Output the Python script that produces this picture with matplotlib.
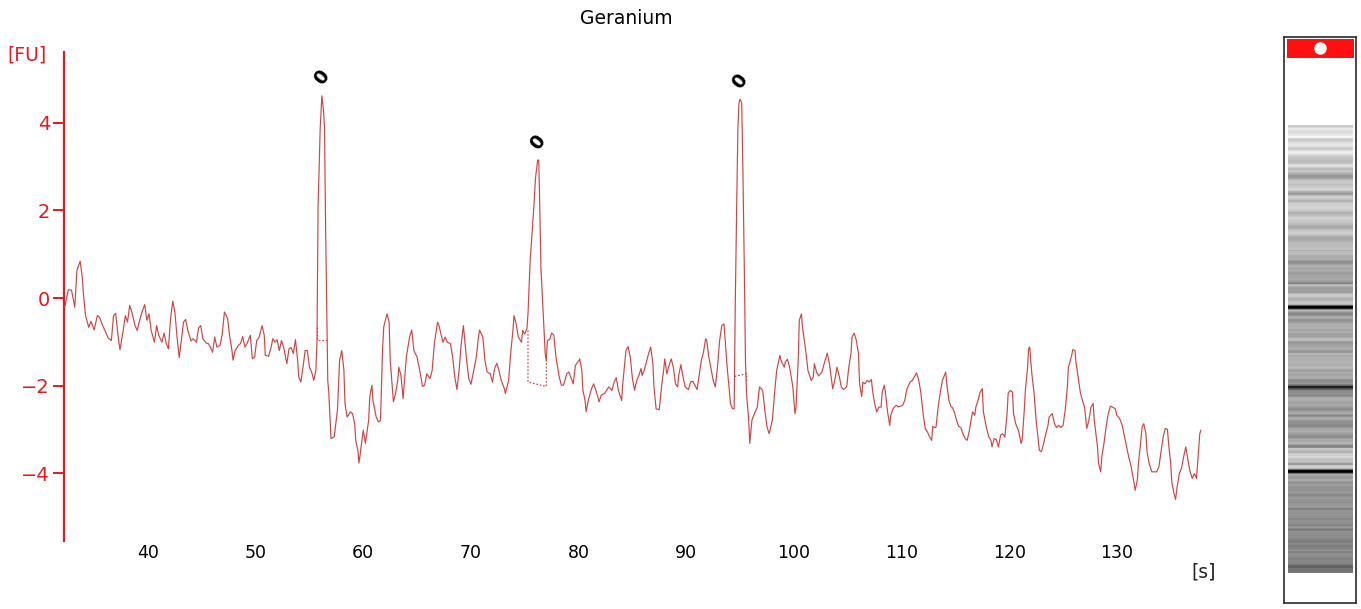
import numpy as np
import matplotlib
matplotlib.use("Agg")
import matplotlib.pyplot as plt

# --- electropherogram trace (time [s], fluorescence [FU]) ---
time_s = [
    32.3, 32.6, 32.9, 33.2, 33.4, 33.7, 33.9, 34.0, 34.2, 34.5, 34.7, 35.0, 35.3, 35.5, 35.8, 36.0,
    36.3, 36.6, 36.8, 37.0, 37.2, 37.4, 37.7, 37.9, 38.1, 38.3, 38.5, 38.8, 39.0, 39.3, 39.5, 39.7,
    39.9, 40.1, 40.3, 40.6, 40.8, 41.0, 41.3, 41.5, 41.7, 41.9, 42.1, 42.3, 42.5, 42.7, 42.9, 43.1,
    43.3, 43.5, 43.7, 44.0, 44.2, 44.5, 44.7, 44.9, 45.1, 45.4, 45.6, 45.8, 46.0, 46.2, 46.4, 46.7,
    46.9, 47.1, 47.4, 47.6, 47.8, 47.9, 48.1, 48.4, 48.6, 48.8, 49.0, 49.2, 49.5, 49.7, 49.9, 50.1,
    50.3, 50.6, 50.8, 50.9, 51.2, 51.4, 51.6, 51.8, 52.0, 52.2, 52.4, 52.6, 52.9, 53.1, 53.3, 53.5,
    53.7, 53.9, 54.0, 54.2, 54.4, 54.6, 54.8, 55.0, 55.2, 55.4, 55.6, 55.7, 55.8, 56.0, 56.15, 56.3,
    56.4, 56.5, 56.6, 56.7, 56.8, 57.0, 57.3, 57.6, 57.8, 58.0, 58.2, 58.3, 58.5, 58.8, 59.0, 59.2,
    59.3, 59.5, 59.6, 59.8, 60.0, 60.2, 60.5, 60.6, 60.8, 60.9, 61.2, 61.4, 61.6, 61.8, 61.9, 62.2,
    62.4, 62.5, 62.8, 63.0, 63.2, 63.3, 63.5, 63.7, 64.0, 64.3, 64.5, 64.7, 65.0, 65.3, 65.5, 65.7,
    65.9, 66.2, 66.4, 66.6, 66.9, 67.0, 67.1, 67.4, 67.6, 67.8, 68.1, 68.3, 68.5, 68.7, 68.9, 69.1,
    69.3, 69.4, 69.6, 69.8, 70.0, 70.2, 70.5, 70.7, 70.8, 71.1, 71.3, 71.5, 71.8, 72.0, 72.2, 72.4,
    72.6, 72.8, 73.1, 73.2, 73.5, 73.7, 73.9, 74.0, 74.2, 74.4, 74.7, 74.8, 75.0, 75.2, 75.3, 75.5,
    75.8, 76.0, 76.2, 76.3, 76.4, 76.5, 76.7, 76.9, 77.0, 77.1, 77.3, 77.5, 77.7, 77.9, 78.2, 78.4,
    78.6, 78.9, 79.1, 79.3, 79.5, 79.7, 80.0, 80.1, 80.3, 80.4, 80.6, 80.7, 80.9, 81.2, 81.4, 81.7,
    81.9, 82.1, 82.4, 82.6, 82.8, 83.1, 83.3, 83.5, 83.7, 84.0, 84.1, 84.3, 84.4, 84.6, 84.8, 85.0,
    85.2, 85.4, 85.6, 85.8, 85.9, 86.1, 86.3, 86.5, 86.7, 86.9, 87.0, 87.2, 87.5, 87.7, 87.9, 88.0,
    88.2, 88.4, 88.6, 88.8, 89.0, 89.2, 89.3, 89.5, 89.7, 89.9, 90.2, 90.4, 90.6, 90.8, 91.0, 91.2,
    91.4, 91.6, 91.8, 91.9, 92.1, 92.3, 92.5, 92.7, 92.9, 93.1, 93.3, 93.5, 93.6, 93.8, 94.0, 94.1,
    94.3, 94.45, 94.55, 94.7, 94.8, 94.9, 95.0, 95.15, 95.25, 95.4, 95.5, 95.6, 95.8, 95.9, 96.1, 96.4,
    96.6, 96.8, 97.1, 97.3, 97.5, 97.7, 98.0, 98.2, 98.4, 98.7, 98.8, 99.1, 99.2, 99.4, 99.6, 99.9,
    100.1, 100.2, 100.4, 100.5, 100.7, 100.8, 101.1, 101.3, 101.6, 101.8, 101.9, 102.1, 102.3, 102.6, 102.9, 103.1,
    103.3, 103.5, 103.6, 103.8, 104.0, 104.2, 104.4, 104.6, 104.9, 105.1, 105.3, 105.4, 105.6, 105.8, 106.0, 106.1,
    106.3, 106.4, 106.6, 106.8, 107.0, 107.2, 107.3, 107.5, 107.7, 107.9, 108.1, 108.2, 108.4, 108.5, 108.7, 108.9,
    109.0, 109.2, 109.5, 109.7, 109.9, 110.1, 110.3, 110.5, 110.8, 111.0, 111.2, 111.4, 111.6, 111.8, 112.0, 112.2,
    112.4, 112.6, 112.8, 112.9, 113.1, 113.2, 113.4, 113.6, 113.8, 114.1, 114.2, 114.4, 114.6, 114.7, 114.9, 115.1,
    115.3, 115.5, 115.7, 115.9, 116.1, 116.3, 116.5, 116.6, 116.8, 116.9, 117.1, 117.3, 117.5, 117.6, 117.9, 118.1,
    118.3, 118.4, 118.6, 118.8, 119.0, 119.2, 119.4, 119.6, 119.8, 119.9, 120.1, 120.3, 120.4, 120.6, 120.9, 121.1,
    121.2, 121.4, 121.5, 121.7, 121.8, 121.9, 122.1, 122.3, 122.5, 122.7, 122.8, 123.0, 123.2, 123.4, 123.6, 123.7,
    124.0, 124.2, 124.4, 124.6, 124.8, 125.0, 125.2, 125.4, 125.5, 125.8, 125.9, 126.1, 126.2, 126.4, 126.6, 126.8,
    127.0, 127.2, 127.4, 127.6, 127.8, 127.9, 128.2, 128.3, 128.5, 128.6, 128.8, 129.0, 129.2, 129.4, 129.6, 129.85,
    130.0, 130.25, 130.5, 130.65, 130.9, 131.1, 131.3, 131.55, 131.7, 131.9, 132.0, 132.2, 132.35, 132.5, 132.7, 132.8,
    133.0, 133.25, 133.5, 133.7, 133.9, 134.1, 134.3, 134.5, 134.7, 134.8, 135.0, 135.1, 135.3, 135.45, 135.6, 135.8,
    136.0, 136.2, 136.4, 136.6, 136.8, 137.0, 137.2, 137.4, 137.5, 137.7, 137.8,
]
signal_fu = [
    -0.17, 0.19, 0.18, -0.21, 0.63, 0.84, 0.47, 0.10, -0.40, -0.67, -0.53, -0.73, -0.40, -0.44, -0.63, -0.74,
    -0.91, -0.97, -0.40, -0.35, -0.82, -1.18, -0.74, -0.40, -0.55, -0.17, -0.32, -0.63, -0.74, -0.44, -0.28, -0.15,
    -0.51, -0.36, -0.74, -1.01, -0.63, -0.85, -1.01, -0.80, -1.04, -1.16, -0.47, -0.07, -0.32, -0.89, -1.36, -0.97,
    -0.55, -0.49, -0.74, -0.98, -0.93, -1.01, -0.68, -0.63, -0.93, -1.03, -1.04, -1.12, -1.24, -0.89, -1.12, -1.08,
    -0.82, -0.32, -0.47, -0.89, -1.20, -1.42, -1.20, -1.08, -1.04, -0.88, -1.12, -1.04, -0.85, -1.39, -1.35, -0.97,
    -0.91, -0.63, -0.85, -1.31, -1.33, -1.16, -0.93, -1.01, -0.95, -1.20, -0.97, -1.12, -1.50, -1.16, -1.13, -1.27,
    -0.95, -1.42, -1.80, -1.92, -1.58, -1.20, -1.20, -1.58, -1.69, -1.88, -1.65, -0.97, 2.07, 3.89, 4.62, 4.30,
    3.89, 1.61, -0.06, -1.88, -2.18, -3.21, -3.17, -2.56, -1.42, -1.20, -1.65, -2.41, -2.72, -2.60, -2.64, -2.87,
    -3.25, -3.48, -3.77, -3.40, -3.02, -3.32, -2.79, -2.26, -1.99, -2.34, -2.72, -2.83, -2.79, -1.12, -0.66, -0.36,
    -0.55, -1.42, -2.37, -2.18, -1.88, -1.58, -1.77, -2.30, -1.35, -0.89, -0.73, -1.20, -1.35, -1.73, -2.02, -1.99,
    -1.73, -1.84, -1.65, -1.04, -0.55, -0.60, -0.70, -1.01, -0.89, -1.01, -1.04, -1.35, -1.80, -2.09, -1.65, -1.04,
    -0.63, -0.89, -1.42, -1.84, -1.97, -1.73, -1.35, -0.89, -0.73, -0.89, -1.42, -1.69, -1.73, -1.92, -1.61, -1.49,
    -1.65, -1.87, -2.07, -2.18, -1.88, -1.24, -0.74, -0.40, -0.59, -0.89, -1.01, -0.74, -0.82, -0.70, -0.36, 0.85,
    1.92, 2.75, 3.15, 3.15, 1.99, 0.70, -0.28, -1.27, -1.44, -0.97, -0.95, -0.80, -0.85, -1.35, -1.80, -1.99,
    -1.99, -1.73, -1.69, -1.82, -1.96, -1.54, -1.44, -1.39, -1.65, -2.11, -2.34, -2.60, -2.34, -2.07, -1.96, -2.18,
    -2.37, -2.22, -2.18, -2.11, -2.03, -2.11, -1.92, -1.82, -2.11, -2.34, -1.96, -1.46, -1.20, -1.11, -1.35, -1.84,
    -2.11, -1.88, -1.77, -1.61, -1.77, -1.65, -1.46, -1.27, -1.12, -1.50, -2.03, -2.53, -2.55, -2.03, -1.65, -1.39,
    -1.73, -1.54, -1.39, -1.58, -1.96, -2.03, -1.77, -1.52, -1.80, -2.03, -2.09, -1.92, -1.90, -1.99, -2.09, -1.77,
    -1.42, -1.24, -0.93, -0.97, -1.35, -1.61, -1.88, -2.03, -1.58, -0.97, -0.63, -0.59, -0.93, -1.58, -2.11, -2.41,
    -2.53, -2.53, -0.20, 2.37, 3.89, 4.46, 4.54, 4.46, 3.13, 0.55, -1.42, -2.18, -2.79, -3.32, -2.79, -2.60,
    -2.49, -2.03, -2.11, -2.56, -2.94, -3.10, -2.79, -2.18, -1.65, -1.31, -1.42, -1.58, -1.46, -1.40, -1.58, -2.03,
    -2.64, -2.49, -1.42, -0.51, -0.36, -0.67, -1.20, -1.65, -1.88, -1.80, -1.50, -1.69, -1.78, -1.69, -1.42, -1.26,
    -1.50, -1.88, -2.07, -1.88, -1.58, -1.77, -2.03, -2.09, -2.03, -1.58, -1.27, -0.89, -0.80, -0.97, -1.27, -1.96,
    -2.25, -1.92, -1.96, -1.88, -1.92, -1.86, -2.11, -2.41, -2.60, -2.49, -2.49, -2.15, -1.99, -2.15, -2.60, -2.91,
    -2.68, -2.53, -2.45, -2.49, -2.47, -2.45, -2.34, -2.07, -1.92, -1.88, -1.79, -1.71, -1.88, -2.18, -2.64, -2.98,
    -3.06, -3.17, -3.25, -2.93, -2.96, -2.95, -2.49, -2.15, -1.88, -1.69, -1.96, -2.34, -2.49, -2.49, -2.60, -2.79,
    -2.93, -2.96, -3.10, -3.21, -3.25, -3.02, -2.72, -2.60, -2.68, -2.49, -2.34, -2.15, -2.07, -2.60, -2.98, -3.17,
    -3.25, -3.40, -3.21, -3.23, -3.40, -3.13, -3.10, -3.17, -2.64, -2.18, -2.11, -2.15, -2.64, -2.87, -3.06, -3.32,
    -3.25, -2.56, -2.11, -1.61, -1.16, -1.12, -1.73, -2.15, -2.79, -3.25, -3.48, -3.51, -3.32, -3.10, -2.91, -2.72,
    -2.64, -2.87, -2.96, -2.91, -2.96, -2.91, -2.56, -2.03, -1.58, -1.31, -1.18, -1.20, -1.46, -1.80, -2.15, -2.34,
    -2.49, -2.98, -2.79, -2.49, -2.41, -2.79, -3.40, -3.78, -3.97, -3.63, -3.32, -2.94, -2.64, -2.47, -2.49, -2.53,
    -2.68, -2.75, -2.91, -3.10, -3.40, -3.63, -3.82, -4.16, -4.39, -4.16, -3.78, -3.32, -2.94, -2.87, -3.10, -3.51,
    -3.78, -3.97, -3.97, -3.97, -3.86, -3.51, -3.17, -2.98, -3.00, -3.32, -3.78, -4.20, -4.46, -4.60, -4.31, -4.01,
    -3.89, -3.63, -3.40, -3.70, -3.97, -4.12, -4.01, -4.12, -3.78, -3.10, -3.02,
]

# detected peaks and their labels
peak_time = [56.15, 76.2, 95.0]
peak_height = [4.62, 3.15, 4.54]
peak_label = ["0", "0", "0"]

# dotted integration baselines under each peak
base1_t = [55.7, 55.7, 56.6]
base1_y = [-0.67, -0.97, -0.97]
base2_t = [75.3, 75.3, 77.0, 77.0]
base2_y = [-0.74, -1.92, -2.02, -1.42]
base3_t = [94.5, 95.6, 95.6]
base3_y = [-1.79, -1.73, -1.95]

x_ticks = [40, 50, 60, 70, 80, 90, 100, 110, 120, 130]
y_ticks = [-4, -2, 0, 2, 4]
x_range = (32.2, 138.0)
y_range = (-5.55, 5.62)

trace_color = "#d04444"
axis_red = "#e8181c"

W, H = 1361, 609
fig = plt.figure(figsize=(W / 100, H / 100), dpi=100)
plt.rcParams["font.family"] = ["DejaVu Sans"]

# --- main electropherogram ---
ax = fig.add_axes([64 / W, 1 - 541 / H, (1203 - 64) / W, (541 - 52) / H])
ax.plot(time_s, signal_fu, color=trace_color, lw=0.85)
for bt, by in [(base1_t, base1_y), (base2_t, base2_y), (base3_t, base3_y)]:
    ax.plot(bt, by, color=trace_color, lw=0.85, ls=(0, (1.5, 1.5)))

for t, h, lab in zip(peak_time, peak_height, peak_label):
    ax.annotate(lab, (t, h), xytext=(0, 13), textcoords="offset points",
                ha="center", va="center", rotation=52, fontsize=13.5,
                fontweight="bold", color="black")

ax.set_xlim(*x_range)
ax.set_ylim(*y_range)
ax.set_xticks(x_ticks)
ax.set_yticks(y_ticks)
for side in ["top", "right", "bottom"]:
    ax.spines[side].set_visible(False)
ax.spines["left"].set_color(axis_red)
ax.spines["left"].set_linewidth(1.6)
ax.tick_params(axis="y", colors=axis_red, labelcolor=axis_red, length=8, width=1.4,
               labelsize=14, pad=2)
ax.tick_params(axis="x", length=0, labelsize=12.5, pad=2, labelcolor="black")

fig.text(0.46, 1 - 18 / H, "Geranium", ha="center", va="center", fontsize=13.5)
fig.text(27 / W, 1 - 55 / H, "[FU]", ha="center", va="center", fontsize=13.5, color=axis_red)
fig.text(1204 / W, 1 - 572 / H, "[s]", ha="center", va="center", fontsize=13.5, color="#222222")

# --- gel-like lane derived from the trace (darker = stronger signal) ---
lane = fig.add_axes([1284 / W, 1 - 603 / H, 72 / W, 566 / H])
lane.set_xlim(0, 1)
lane.set_ylim(25.2, 159.1)
grid_t = np.linspace(x_range[0], x_range[1], 500)
grid_sig = np.interp(grid_t, time_s, signal_fu)
shade = np.clip(0.57 - 0.11 * (grid_sig + 1.0), 0, 1)
lane.imshow(shade[:, None], cmap="gray", vmin=0, vmax=1, aspect="auto", origin="lower",
            extent=(0.056, 0.958, x_range[0], x_range[1]), interpolation="nearest")
lane.add_patch(plt.Rectangle((0.04, 154.1), 0.93, 4.5, color="#ff1010", lw=0))
lane.plot([0.5], [156.4], marker="o", ms=8, color="white", mec="white")
lane.set_xticks([])
lane.set_yticks([])
for s in lane.spines.values():
    s.set_color("#3a3a3a")
    s.set_linewidth(1.3)

fig.savefig("out.png", dpi=100)
